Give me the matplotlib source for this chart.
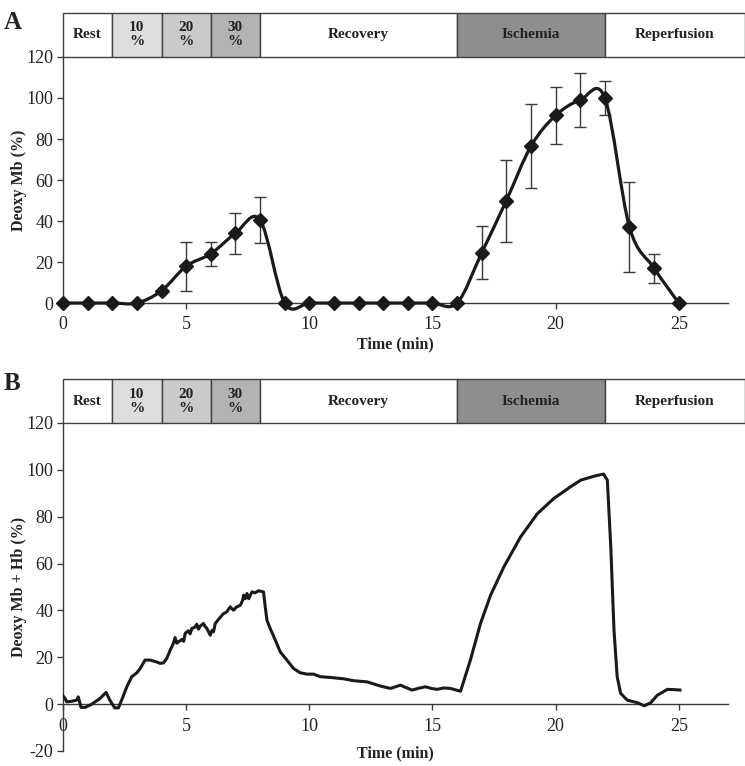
import matplotlib
matplotlib.use("Agg")
import matplotlib.pyplot as plt
import matplotlib.transforms as mtransforms
from matplotlib.patches import Rectangle, PathPatch
from matplotlib.path import Path

plt.rcParams['font.family'] = ['Liberation Serif', 'DejaVu Serif']
plt.rcParams['axes.unicode_minus'] = False

# --- header phases (minutes) ---
phase_edges = [0, 2, 4, 6, 8, 16, 22, 27.7]
phase_labels = ['Rest', '10\n%', '20\n%', '30\n%', 'Recovery', 'Ischemia', 'Reperfusion']
phase_colors = ['white', '#dedede', '#cacaca', '#b3b3b3', 'white', '#8e8e8e', 'white']

# --- panel A: deoxy Mb, means and SD at each minute ---
time_a = list(range(26))
mb_mean = [0, 0, 0, 0, 6, 18, 24, 34, 40.5, 0, 0, 0, 0, 0, 0, 0, 0,
           24.5, 50, 76.5, 91.5, 99, 100, 37, 17, 0]
mb_err = [None, None, None, None, None, 12, 6, 10, 11, None, None, None, None, None, None, None, None,
          13, 20, 20.5, 14, 13, 8.5, 22, 7, None]

# --- panel B: deoxy Mb + Hb trace ---
time_b = [0.0, 0.08, 0.15, 0.35, 0.55, 0.62, 0.73, 0.9, 1.17, 1.5, 1.75, 1.9, 2.1, 2.25,
          2.38, 2.59, 2.79, 3.0, 3.13, 3.33, 3.54, 3.8, 3.94, 4.08, 4.21, 4.35, 4.48,
          4.55, 4.62, 4.69, 4.82, 4.9, 4.96, 5.09, 5.16, 5.23, 5.35, 5.43, 5.5, 5.57,
          5.7, 5.78, 5.84, 5.98, 6.05, 6.11, 6.18, 6.3, 6.38, 6.5, 6.65, 6.72, 6.79,
          6.92, 7.05, 7.2, 7.3, 7.33, 7.4, 7.47, 7.54, 7.67, 7.8, 7.94, 8.14, 8.21,
          8.28, 8.41, 8.62, 8.82, 9.09, 9.36, 9.63, 9.9, 10.17, 10.45, 10.85, 11.4,
          11.8, 12.35, 12.89, 13.3, 13.7, 14.17, 14.45, 14.71, 15.0, 15.19, 15.45,
          15.73, 16.14, 16.54, 16.95, 17.36, 17.9, 18.58, 19.26, 19.93, 20.61, 21.02,
          21.6, 21.95, 22.1, 22.24, 22.37, 22.5, 22.64, 22.91, 23.32, 23.6, 23.86,
          24.13, 24.54, 24.8, 25.05]
hb_b = [3.5, 2.5, 1.0, 1.2, 1.7, 3.1, -1.4, -1.4, 0.0, 2.4, 5.0, 1.7, -1.6, -1.6,
        1.7, 7.4, 11.7, 13.4, 15.2, 18.8, 18.8, 18.0, 17.4, 17.6, 19.5, 23.0, 25.9,
        28.4, 26.0, 26.6, 27.6, 26.8, 30.2, 31.3, 30.0, 32.3, 32.8, 34.1, 32.0, 33.3,
        34.4, 33.0, 32.3, 29.4, 31.5, 30.9, 34.4, 36.0, 37.0, 38.5, 39.4, 40.5, 41.5,
        40.1, 41.5, 42.2, 44.5, 46.5, 45.0, 47.2, 45.0, 47.9, 47.5, 48.4, 47.9, 41.5,
        35.8, 32.3, 27.3, 22.3, 18.8, 15.2, 13.4, 12.8, 12.8, 11.7, 11.4, 10.8,
        10.0, 9.5, 7.7, 6.7, 8.1, 6.0, 6.8, 7.4, 6.6, 6.3, 6.9, 6.7, 5.5, 18.8,
        34.4, 46.5, 58.6, 71.4, 81.3, 87.8, 92.8, 95.6, 97.4, 98.2, 95.6, 67.2,
        31.6, 11.7, 4.6, 1.7, 0.6, -0.7, 0.6, 3.8, 6.3, 6.2, 6.0]

fig = plt.figure(figsize=(7.45, 7.66), dpi=100)
ax_a = fig.add_axes([0.0846, 0.6044, 0.8926, 0.3212])
ax_b = fig.add_axes([0.0846, 0.0196, 0.8926, 0.4282])

spine_col = '#3a3a3a'
txt_col = '#222222'


def style_axes(ax, xpad):
    for s in ['top', 'right']:
        ax.spines[s].set_visible(False)
    for s in ['left', 'bottom']:
        ax.spines[s].set_color(spine_col)
        ax.spines[s].set_linewidth(1.0)
    ax.set_xlim(0, 27)
    ax.set_xticks([0, 5, 10, 15, 20, 25])
    ax.tick_params(axis='x', direction='out', length=4, width=1, colors=spine_col,
                   labelcolor=txt_col, labelsize=13, pad=xpad)
    ax.tick_params(axis='y', direction='out', length=4, width=1, colors=spine_col,
                   labelcolor=txt_col, labelsize=13, pad=3)


def draw_header(ax, height):
    trans = mtransforms.blended_transform_factory(ax.transData, ax.transAxes)
    for i, lab in enumerate(phase_labels):
        x0, x1 = phase_edges[i], phase_edges[i + 1]
        ax.add_patch(Rectangle((x0, 1), x1 - x0, height, transform=trans,
                               facecolor=phase_colors[i], edgecolor='#404040',
                               linewidth=1, clip_on=False))
        ax.text((x0 + x1) / 2, 1 + height / 2, lab, transform=trans, ha='center',
                va='center', fontsize=11, fontweight='bold', color=txt_col,
                linespacing=1.1)


def smooth_path(xs, ys):
    # Excel-style smoothed line drawn as cubic Bezier segments
    n = len(xs)
    verts = [(xs[0], ys[0])]
    codes = [Path.MOVETO]
    for i in range(n - 1):
        xp, yp = (xs[i - 1], ys[i - 1]) if i > 0 else (xs[i], ys[i])
        xn, yn = (xs[i + 2], ys[i + 2]) if i + 2 < n else (xs[i + 1], ys[i + 1])
        c1 = (xs[i] + (xs[i + 1] - xp) / 6, ys[i] + (ys[i + 1] - yp) / 6)
        c2 = (xs[i + 1] - (xn - xs[i]) / 6, ys[i + 1] - (yn - ys[i]) / 6)
        verts += [c1, c2, (xs[i + 1], ys[i + 1])]
        codes += [Path.CURVE4] * 3
    return Path(verts, codes)


# panel A
style_axes(ax_a, 5)
ax_a.set_ylim(0, 120)
ax_a.set_yticks(range(0, 121, 20))
ax_a.set_xlabel('Time (min)', fontsize=11.5, fontweight='bold', color=txt_col)
ax_a.xaxis.set_label_coords(0.5, -0.135)
ax_a.set_ylabel('Deoxy Mb (%)', fontsize=11.5, fontweight='bold', color=txt_col)
ax_a.yaxis.set_label_coords(-0.054, 0.5)
draw_header(ax_a, 0.179)

ax_a.add_patch(PathPatch(smooth_path(time_a, mb_mean), facecolor='none',
                         edgecolor='#1a1a1a', linewidth=2.3, clip_on=False, zorder=3))
for t, m, e in zip(time_a, mb_mean, mb_err):
    if e is not None:
        ax_a.errorbar(t, m, yerr=e, fmt='none', ecolor='#3a3a3a', elinewidth=1,
                      capsize=4, capthick=1, zorder=2)
ax_a.plot(time_a, mb_mean, linestyle='none', marker='D', markersize=7,
          color='#1a1a1a', clip_on=False, zorder=4)

# panel B
style_axes(ax_b, 6)
ax_b.set_ylim(-20, 120)
ax_b.set_yticks(range(-20, 121, 20))
ax_b.spines['bottom'].set_position(('data', 0))
ax_b.set_xlabel('Time (min)', fontsize=11.5, fontweight='bold', color=txt_col)
ax_b.xaxis.set_label_coords(0.5, 0.018)
ax_b.set_ylabel('Deoxy Mb + Hb (%)', fontsize=11.5, fontweight='bold', color=txt_col)
ax_b.yaxis.set_label_coords(-0.054, 0.5)
draw_header(ax_b, 0.134)
ax_b.plot(time_b, hb_b, color='#1a1a1a', linewidth=2.2, zorder=3)

fig.text(0.005, 0.985, 'A', fontsize=18, fontweight='bold', color=txt_col, va='top')
fig.text(0.005, 0.515, 'B', fontsize=18, fontweight='bold', color=txt_col, va='top')

fig.savefig('out.png', dpi=100)
